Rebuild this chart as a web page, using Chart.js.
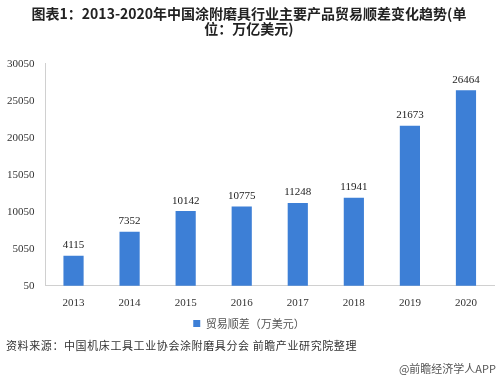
<!DOCTYPE html>
<html>
<head>
<meta charset="utf-8">
<script src="https://cdn.jsdelivr.net/npm/chart.js@4"></script>
<style>
  body { margin: 0; background: #fff; }
  #wrap { position: relative; width: 500px; height: 375px; }
  #chart { position: absolute; left: 0; top: 0; }
  .nota { position: absolute; font-family: "Noto Sans CJK SC", sans-serif; color: #333; font-size: 11px; }
  #fuente { left: 6px; top: 337px; letter-spacing: 0.6px; }
  #marca { right: 4px; top: 360px; color: #555; }
</style>
</head>
<body>
<div id="wrap">
  <canvas id="chart" width="500" height="375"></canvas>
  <div class="nota" id="fuente">资料来源：中国机床工具工业协会涂附磨具分会 前瞻产业研究院整理</div>
  <div class="nota" id="marca">@前瞻经济学人APP</div>
</div>
<script>
// datos
const anios = ['2013', '2014', '2015', '2016', '2017', '2018', '2019', '2020'];
const saldo = [4115, 7352, 10142, 10775, 11248, 11941, 21673, 26464];
const ticksY = [50, 5050, 10050, 15050, 20050, 25050, 30050];

// etiquetas de valor encima de cada barra
const etiquetas = {
    id: 'etiquetas',
    afterDatasetsDraw(chart) {
        const ctx = chart.ctx;
        const meta = chart.getDatasetMeta(0);
        ctx.save();
        ctx.font = '11px "Liberation Serif", serif';
        ctx.fillStyle = '#222';
        ctx.textAlign = 'center';
        ctx.textBaseline = 'bottom';
        meta.data.forEach((bar, i) => {
            ctx.fillText(saldo[i], bar.x, bar.y - 5);
        });
        ctx.restore();
    }
};

new Chart(document.getElementById('chart'), {
    type: 'bar',
    data: {
        labels: anios,
        datasets: [{
            label: '贸易顺差（万美元）',
            data: saldo,
            backgroundColor: '#3d7fd6',
            barPercentage: 0.36,
            categoryPercentage: 1
        }]
    },
    options: {
        responsive: false,
        animation: false,
        layout: { padding: { left: 4, right: 6, bottom: 36 } },
        plugins: {
            title: {
                display: true,
                text: ['图表1：2013-2020年中国涂附磨具行业主要产品贸易顺差变化趋势(单', '位：万亿美元)'],
                font: { family: '"Noto Sans CJK SC", sans-serif', size: 14, weight: 'bold', lineHeight: 1.1 },
                color: '#222',
                padding: { top: 6, bottom: 27 }
            },
            legend: {
                position: 'bottom',
                labels: {
                    boxWidth: 7,
                    boxHeight: 7,
                    padding: 5,
                    color: '#555',
                    font: { family: '"Noto Sans CJK SC", sans-serif', size: 11 }
                }
            },
            tooltip: { enabled: false }
        },
        scales: {
            x: {
                grid: { display: false },
                border: { color: '#d0d0d0' },
                ticks: { color: '#333', font: { family: '"Liberation Serif", serif', size: 11 } }
            },
            y: {
                min: 50,
                max: 30050,
                afterBuildTicks(axis) {
                    axis.ticks = ticksY.map(v => ({ value: v }));
                },
                grid: { display: false },
                border: { color: '#d0d0d0' },
                ticks: {
                    color: '#333',
                    font: { family: '"Liberation Serif", serif', size: 11 },
                    callback: v => String(v)
                }
            }
        }
    },
    plugins: [etiquetas]
});
</script>
</body>
</html>
